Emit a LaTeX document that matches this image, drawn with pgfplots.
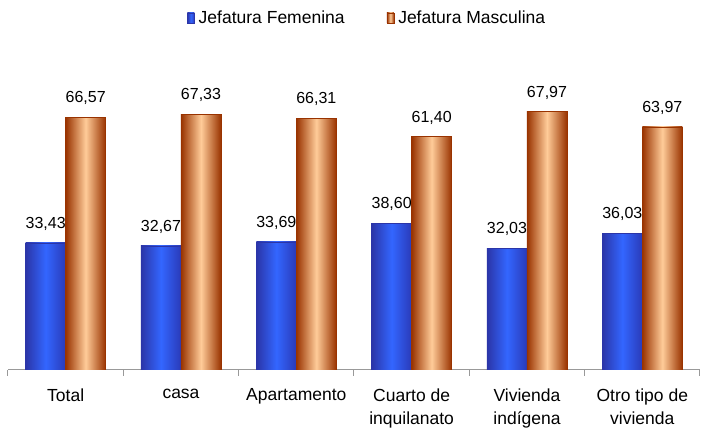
\documentclass[border=0pt]{standalone}
\usepackage{fontspec}
\setmainfont{Liberation Sans}
\usepackage{pgfplots}
\pgfplotsset{compat=1.18}
\definecolor{bluedark}{HTML}{2B35A8}
\definecolor{bluemid}{HTML}{3366FF}
\definecolor{blueright}{HTML}{2A3AB8}
\definecolor{ordark}{HTML}{993300}
\definecolor{ormid}{HTML}{FFCC99}
\definecolor{axgray}{HTML}{999999}
\pgfplotsset{
  fem/.style={draw=bluedark, line width=0.6pt, left color=bluedark, right color=blueright, middle color=bluemid},
  mas/.style={draw=ordark, line width=0.6pt, left color=ordark, right color=ordark, middle color=ormid},
}
\begin{document}
\fontsize{16}{19}\selectfont
\begin{tikzpicture}
\useasboundingbox (-8pt,-60pt) rectangle (694pt,370pt);
\begin{axis}[
  scale only axis, width=692pt, height=304pt,
  at={(0,0)}, anchor=south west,
  ymin=0, ymax=80, xmin=-0.5, xmax=5.5,
  axis y line=none,
  axis x line*=bottom,
  x axis line style={axgray, line width=1pt, -},
  xtick={0,...,5},
  xticklabels={Total, casa, Apartamento, {Cuarto de\\inquilanato}, {Vivienda\\indígena}, {Otro tipo de\\vivienda}},
  major x tick style={draw=none},
  minor xtick={-0.5,0.5,1.5,2.5,3.5,4.5,5.5},
  minor x tick style={axgray, line width=1pt},
  minor tick length=6pt,
  tick align=outside,
  xticklabel style={align=center, font=\fontsize{17.5}{23}\selectfont, yshift=-9pt},
  /pgf/number format/assume math mode=true,
  /pgf/number format/fixed,
  /pgf/number format/fixed zerofill,
  /pgf/number format/precision=2,
  /pgf/number format/use comma,
  nodes near coords,
  nodes near coords style={font=\fontsize{16}{19}\selectfont, anchor=south, yshift=10pt, inner sep=2pt},
  ybar, bar width=40pt,
  legend style={at={(0.519,1.158)}, anchor=center, draw=none, fill=none,
    legend columns=2, font=\fontsize{17.5}{20}\selectfont,
    /tikz/every odd column/.append style={column sep=2pt},
    /tikz/every even column/.append style={column sep=40pt}},
  legend image code/.code={\draw[#1] (0pt,-5pt) rectangle (7pt,5pt);},
]
\addlegendimage{fem}\addlegendentry{Jefatura Femenina}
\addlegendimage{mas}\addlegendentry{Jefatura Masculina}
% Jefatura Femenina
\addplot[fem, bar shift=-20pt, forget plot] coordinates {(0,33.43)};
\addplot[fem, bar shift=-20pt, forget plot] coordinates {(1,32.67)};
\addplot[fem, bar shift=-20pt, forget plot] coordinates {(2,33.69)};
\addplot[fem, bar shift=-20pt, forget plot] coordinates {(3,38.60)};
\addplot[fem, bar shift=-20pt, forget plot] coordinates {(4,32.03)};
\addplot[fem, bar shift=-20pt, forget plot] coordinates {(5,36.03)};
% Jefatura Masculina
\addplot[mas, bar shift=20pt, forget plot] coordinates {(0,66.57)};
\addplot[mas, bar shift=20pt, forget plot] coordinates {(1,67.33)};
\addplot[mas, bar shift=20pt, forget plot] coordinates {(2,66.31)};
\addplot[mas, bar shift=20pt, forget plot] coordinates {(3,61.40)};
\addplot[mas, bar shift=20pt, forget plot] coordinates {(4,67.97)};
\addplot[mas, bar shift=20pt, forget plot] coordinates {(5,63.97)};
\end{axis}
\end{tikzpicture}
\end{document}
